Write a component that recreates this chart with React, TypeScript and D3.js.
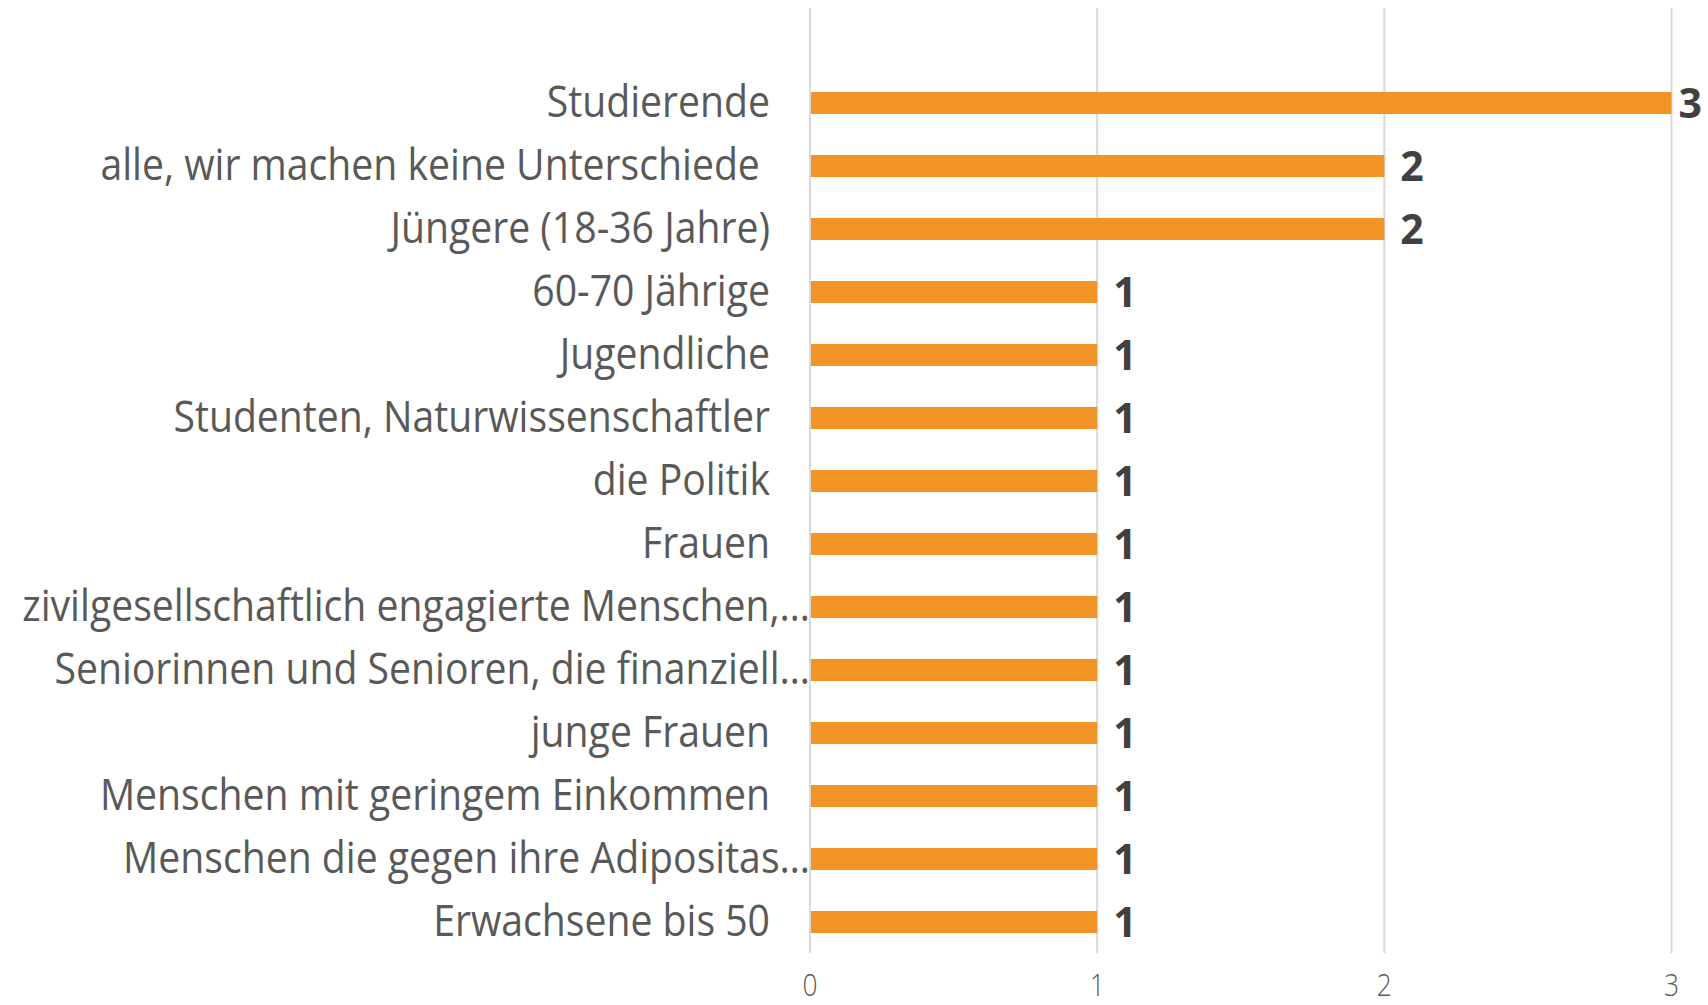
import React from "react";
import * as d3 from "d3";

const categories = [
  "Studierende",
  "alle, wir machen keine Unterschiede ",
  "Jüngere (18-36 Jahre)",
  "60-70 Jährige",
  "Jugendliche",
  "Studenten, Naturwissenschaftler",
  "die Politik",
  "Frauen",
  "zivilgesellschaftlich engagierte Menschen,…",
  "Seniorinnen und Senioren, die finanziell…",
  "junge Frauen",
  "Menschen mit geringem Einkommen",
  "Menschen die gegen ihre Adipositas…",
  "Erwachsene bis 50",
];
const values = [3, 2, 2, 1, 1, 1, 1, 1, 1, 1, 1, 1, 1, 1];
const ticks = [0, 1, 2, 3];

const W = 1708;
const H = 1005;
const FONT = "'Open Sans', 'Noto Sans', sans-serif";
const SX = 0.89;

export default function App() {
  const x = d3.scaleLinear().domain([0, 3]).range([810, 1671.5]);
  const y = d3
    .scaleBand<string>()
    .domain(categories)
    .range([71.5, 953.5])
    .paddingInner(0.65)
    .paddingOuter(0.325);
  const bw = y.bandwidth();

  return (
    <svg
      width={W}
      height={H}
      style={{ position: "absolute", left: 0, top: 0, background: "#fff" }}
    >
      {ticks.map((t) => (
        <g key={t}>
          <line
            x1={x(t)}
            x2={x(t)}
            y1={8}
            y2={953}
            stroke="#D9D9D9"
            strokeWidth={2}
          />
          <text
            transform={`translate(${x(t)},996) scale(0.85,1)`}
            textAnchor="middle"
            fontFamily={FONT}
            fontWeight={300}
            fontSize={31}
            fill="#595959"
          >
            {t}
          </text>
        </g>
      ))}
      {categories.map((c, i) => {
        const cy = (y(c) as number) + bw / 2;
        const truncated = c.endsWith("…");
        const lx = truncated ? 810 : 770;
        const v = values[i];
        let vx = x(v) + 16;
        const estW = 24;
        let anchor: "start" | "end" = "start";
        if (vx + estW > 1702) {
          vx = 1702;
          anchor = "end";
        }
        return (
          <g key={c}>
            <rect
              x={x(0) + 1}
              y={y(c)}
              width={x(v) - x(0) - 1}
              height={bw}
              fill="#F29426"
            />
            <text
              transform={`translate(${lx},${cy + 13.7}) scale(${SX},1)`}
              textAnchor="end"
              fontFamily={FONT}
              fontWeight={400}
              fontSize={44}
              fill="#595959"
              style={{ whiteSpace: "pre" }}
            >
              {c}
            </text>
            <text
              x={vx}
              y={cy + 14.7}
              textAnchor={anchor}
              fontFamily={FONT}
              fontWeight={700}
              fontSize={41}
              fill="#404040"
            >
              {v}
            </text>
          </g>
        );
      })}
    </svg>
  );
}
